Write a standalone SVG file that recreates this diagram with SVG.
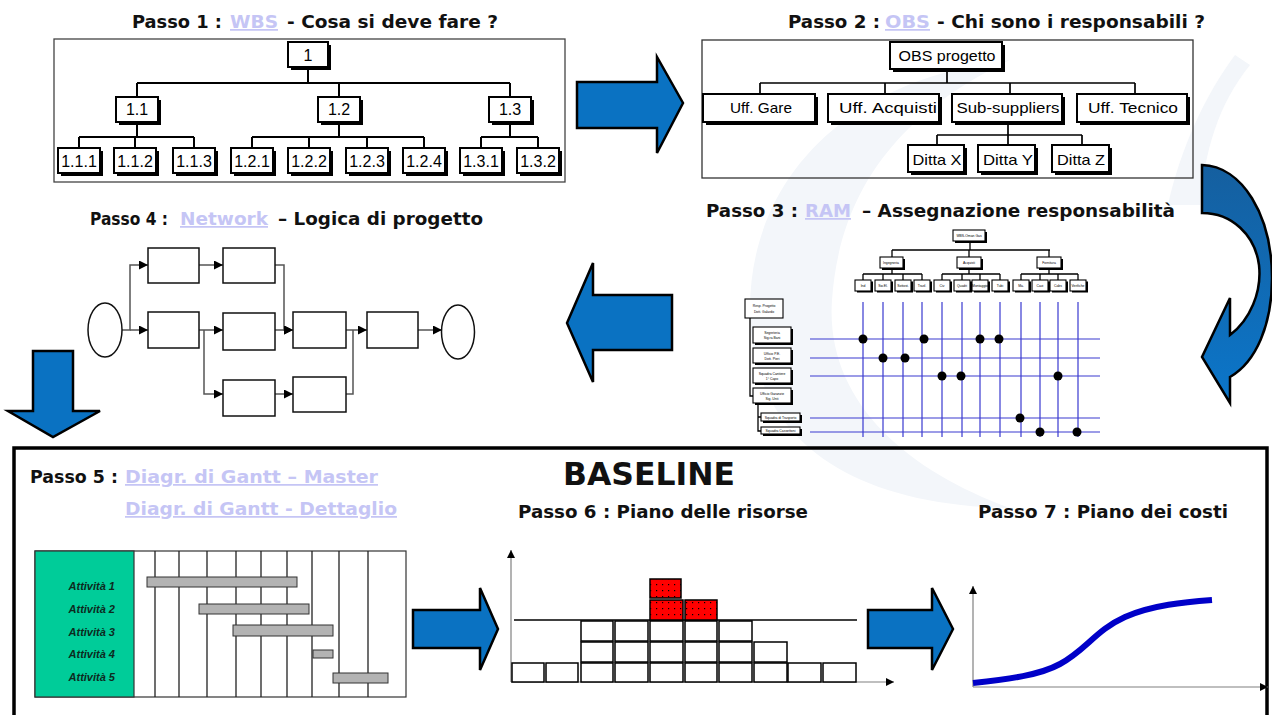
<svg xmlns="http://www.w3.org/2000/svg" width="1272" height="715" viewBox="0 0 1272 715">
<style>
.t{font-family:"DejaVu Sans",Verdana,sans-serif;font-weight:bold;font-size:17.5px;fill:#111}
.lk{fill:#c5c5f5;text-decoration:underline}
.nl{font-family:"Liberation Sans",Arial,sans-serif;font-size:16px;fill:#000;text-anchor:middle}
.ol{font-family:"Liberation Sans",Arial,sans-serif;font-size:15px;fill:#000;text-anchor:middle}
.sh{fill:#000}
.bx{fill:#fff;stroke:#000;stroke-width:2}
.cn{fill:none;stroke:#000;stroke-width:2}
.cn2{fill:none;stroke:#000;stroke-width:1.7}
.big{fill:#0a72c2;stroke:#000;stroke-width:2.5;stroke-linejoin:miter}
.nb{fill:#fff;stroke:#111;stroke-width:1.5}
.nc{fill:none;stroke:#555;stroke-width:1.5}
.tiny{font-family:"Liberation Sans",Arial,sans-serif;font-size:3.4px;fill:#000;text-anchor:middle}
.rb{fill:#fff;stroke:#000;stroke-width:1.1}
.rc{fill:none;stroke:#000;stroke-width:1.3}
.grid{stroke:#3a3ad0;stroke-width:1.2;fill:none}
.dot{fill:#000}
.res{fill:#fff;stroke:#000;stroke-width:1.5}
.red{fill:url(#dots);stroke:#000;stroke-width:1.5}
.bar{fill:#b3b3b3;stroke:#333;stroke-width:1}
.act{font-family:"Liberation Sans",Arial,sans-serif;font-size:11px;font-weight:bold;font-style:italic;fill:#0d2a1e;text-anchor:end}
.ax{stroke:#808080;stroke-width:1.2;fill:none}
.wm{fill:#f3f6fa}
</style>
<defs>
<marker id="ah" viewBox="0 0 10 10" refX="10" refY="5" markerWidth="9" markerHeight="9" markerUnits="userSpaceOnUse" orient="auto"><path d="M0,0 L10,5 L0,10 z" fill="#000"/></marker>
<marker id="axh" viewBox="0 0 10 10" refX="10" refY="5" markerWidth="8" markerHeight="8" markerUnits="userSpaceOnUse" orient="auto"><path d="M0,0 L10,5 L0,10 z" fill="#000"/></marker>
<pattern id="dots" width="6" height="6" patternUnits="userSpaceOnUse"><rect width="6" height="6" fill="#f00"/><rect x="2" y="2" width="1.2" height="1.2" fill="#000"/></pattern>
<linearGradient id="cg" x1="0" y1="0" x2="0" y2="1"><stop offset="0" stop-color="#155f9f"/><stop offset="1" stop-color="#0b76ca"/></linearGradient>
</defs>
<rect width="1272" height="715" fill="#fff"/>

<g id="watermark">
<path class="wm" d="M1010,60 C830,80 735,200 752,340 C765,440 850,505 1010,508 C905,470 825,400 832,300 C840,185 905,110 1010,60 Z"/>
<path class="wm" d="M1235,55 C1205,95 1180,150 1168,205 L1200,205 C1205,150 1218,105 1250,65 Z"/>
</g>

<g id="titles">
<text class="t" x="132" y="28" textLength="90" lengthAdjust="spacingAndGlyphs">Passo 1 :</text>
<text class="t lk" x="230" y="28" textLength="48" lengthAdjust="spacingAndGlyphs">WBS</text>
<text class="t" x="287" y="28" textLength="211" lengthAdjust="spacingAndGlyphs">- Cosa si deve fare ?</text>
<text class="t" x="788" y="28" textLength="92" lengthAdjust="spacingAndGlyphs">Passo 2 :</text>
<text class="t lk" x="885" y="28" textLength="45" lengthAdjust="spacingAndGlyphs">OBS</text>
<text class="t" x="937" y="28" textLength="268" lengthAdjust="spacingAndGlyphs">- Chi sono i responsabili ?</text>
<text class="t" x="706" y="217" textLength="92" lengthAdjust="spacingAndGlyphs">Passo 3 :</text>
<text class="t lk" x="805" y="217" textLength="46" lengthAdjust="spacingAndGlyphs">RAM</text>
<text class="t" x="862" y="217" textLength="313" lengthAdjust="spacingAndGlyphs">– Assegnazione responsabilità</text>
<text class="t" x="90" y="225" textLength="78" lengthAdjust="spacingAndGlyphs">Passo 4 :</text>
<text class="t lk" x="180" y="225" textLength="88" lengthAdjust="spacingAndGlyphs">Network</text>
<text class="t" x="278" y="225" textLength="205" lengthAdjust="spacingAndGlyphs">– Logica di progetto</text>
<text class="t" x="30" y="483" textLength="88" lengthAdjust="spacingAndGlyphs">Passo 5 :</text>
<text class="t lk" x="125" y="483" textLength="253" lengthAdjust="spacingAndGlyphs">Diagr. di Gantt – Master</text>
<text class="t lk" x="125" y="515" textLength="272" lengthAdjust="spacingAndGlyphs">Diagr. di Gantt - Dettaglio</text>
<text class="t" x="563" y="485" style="font-size:32px" textLength="172" lengthAdjust="spacingAndGlyphs">BASELINE</text>
<text class="t" x="518" y="518" textLength="290" lengthAdjust="spacingAndGlyphs">Passo 6 : Piano delle risorse</text>
<text class="t" x="978" y="518" textLength="250" lengthAdjust="spacingAndGlyphs">Passo 7 : Piano dei costi</text>
</g>

<g id="frames">
<rect x="54" y="39" width="511" height="143" fill="none" stroke="#444" stroke-width="1.3"/>
<rect x="702" y="40" width="491" height="138" fill="none" stroke="#333" stroke-width="1.3"/>
<rect x="14" y="448" width="1253" height="290" fill="none" stroke="#000" stroke-width="3.5"/>
</g>

<g id="connectors">
<g id="wbs-connectors">
<path class="cn" d="M308,67 V83 M137,83 H510 M137,83 V97 M339,83 V97 M510,83 V97"/>
<path class="cn" d="M137,122 V137 M79,137 H194 M79,137 V148 M135,137 V148 M194,137 V148"/>
<path class="cn" d="M339,122 V137 M252,137 H424 M252,137 V148 M309,137 V148 M367,137 V148 M424,137 V148"/>
<path class="cn" d="M510,122 V137 M481,137 H538 M481,137 V148 M538,137 V148"/>
</g>
<g id="obs-connectors">
<path class="cn2" d="M947,69 V83 M760,83 H1135 M760,83 V94 M885,83 V94 M1010,83 V94 M1135,83 V94"/>
<path class="cn2" d="M1008,122 V135 M937,135 H1082 M937,135 V145 M1008,135 V145 M1082,135 V145"/>
</g>
<g id="ram-connectors">
<path class="rc" d="M970,241 V250 M892,250 H1050 M892,250 V257 M969,250 V257 M1049,250 V257"/>
<path class="rc" d="M892,268 V274 M863,274 H922 M863,274 V280 M883,274 V280 M903,274 V280 M922,274 V280"/>
<path class="rc" d="M969,268 V274 M942,274 H1000 M942,274 V280 M962,274 V280 M980,274 V280 M1000,274 V280"/>
<path class="rc" d="M1049,268 V274 M1021,274 H1078 M1021,274 V280 M1040,274 V280 M1058,274 V280 M1078,274 V280"/>
<path class="rc" d="M750,318 V396 H753 M758,403 V431 H761 M758,417 H761"/>
<path class="grid" d="M863,302 V437 M883,302 V437 M903,302 V437 M922,302 V437 M942,302 V437 M962,302 V437 M980,302 V437 M1000,302 V437 M1021,302 V437 M1040,302 V437 M1058,302 V437 M1078,302 V437"/>
<path class="grid" d="M810,339 H1100 M810,358 H1100 M810,376 H1100 M810,418 H1100 M810,432 H1100"/>
</g>
<g id="network-connectors">
<path class="nc" d="M122,330 H130 V265 H148" marker-end="url(#ah)"/>
<path class="nc" d="M130,330 H148" marker-end="url(#ah)"/>
<path class="nc" d="M199,265 H223" marker-end="url(#ah)"/>
<path class="nc" d="M275,265 H284 V330 H293" marker-end="url(#ah)"/>
<path class="nc" d="M199,330 H223" marker-end="url(#ah)"/>
<path class="nc" d="M204,330 V394 H223" marker-end="url(#ah)"/>
<path class="nc" d="M275,330 H293" marker-end="url(#ah)"/>
<path class="nc" d="M346,330 H367" marker-end="url(#ah)"/>
<path class="nc" d="M275,394 H293" marker-end="url(#ah)"/>
<path class="nc" d="M346,394 H353 V330"/>
<path class="nc" d="M418,330 H442" marker-end="url(#ah)"/>
</g>
</g>

<g id="wbs-nodes">
<g id="wbs-1"><rect class="sh" x="291" y="45" width="40" height="25"/><rect class="bx" x="288" y="42" width="40" height="25"/><text class="nl" x="308" y="61">1</text></g>
<g id="wbs-1-1"><rect class="sh" x="119" y="100" width="42" height="25"/><rect class="bx" x="116" y="97" width="42" height="25"/><text class="nl" x="137" y="115">1.1</text></g>
<g id="wbs-1-2"><rect class="sh" x="321" y="100" width="42" height="25"/><rect class="bx" x="318" y="97" width="42" height="25"/><text class="nl" x="339" y="115">1.2</text></g>
<g id="wbs-1-3"><rect class="sh" x="492" y="100" width="42" height="25"/><rect class="bx" x="489" y="97" width="42" height="25"/><text class="nl" x="510" y="115">1.3</text></g>
<g id="wbs-1-1-1"><rect class="sh" x="61" y="151" width="42" height="25"/><rect class="bx" x="58" y="148" width="42" height="25"/><text class="nl" x="79" y="167">1.1.1</text></g>
<g id="wbs-1-1-2"><rect class="sh" x="117" y="151" width="42" height="25"/><rect class="bx" x="114" y="148" width="42" height="25"/><text class="nl" x="135" y="167">1.1.2</text></g>
<g id="wbs-1-1-3"><rect class="sh" x="176" y="151" width="42" height="25"/><rect class="bx" x="173" y="148" width="42" height="25"/><text class="nl" x="194" y="167">1.1.3</text></g>
<g id="wbs-1-2-1"><rect class="sh" x="234" y="151" width="42" height="25"/><rect class="bx" x="231" y="148" width="42" height="25"/><text class="nl" x="252" y="167">1.2.1</text></g>
<g id="wbs-1-2-2"><rect class="sh" x="291" y="151" width="42" height="25"/><rect class="bx" x="288" y="148" width="42" height="25"/><text class="nl" x="309" y="167">1.2.2</text></g>
<g id="wbs-1-2-3"><rect class="sh" x="349" y="151" width="42" height="25"/><rect class="bx" x="346" y="148" width="42" height="25"/><text class="nl" x="367" y="167">1.2.3</text></g>
<g id="wbs-1-2-4"><rect class="sh" x="406" y="151" width="42" height="25"/><rect class="bx" x="403" y="148" width="42" height="25"/><text class="nl" x="424" y="167">1.2.4</text></g>
<g id="wbs-1-3-1"><rect class="sh" x="463" y="151" width="42" height="25"/><rect class="bx" x="460" y="148" width="42" height="25"/><text class="nl" x="481" y="167">1.3.1</text></g>
<g id="wbs-1-3-2"><rect class="sh" x="520" y="151" width="42" height="25"/><rect class="bx" x="517" y="148" width="42" height="25"/><text class="nl" x="538" y="167">1.3.2</text></g>
</g>

<g id="obs-nodes">
<g id="obs-root"><rect class="sh" x="893" y="45" width="112" height="27"/><rect class="bx" x="890" y="42" width="112" height="27"/><text class="ol" x="947" y="61" textLength="97" lengthAdjust="spacingAndGlyphs">OBS progetto</text></g>
<g id="obs-gare"><rect class="sh" x="706" y="97" width="112" height="28"/><rect class="bx" x="703" y="94" width="112" height="28"/><text class="ol" x="761" y="113" textLength="62" lengthAdjust="spacingAndGlyphs">Uff. Gare</text></g>
<g id="obs-acquisti"><rect class="sh" x="831" y="97" width="111" height="28"/><rect class="bx" x="828" y="94" width="111" height="28"/><text class="ol" x="888" y="113" textLength="98" lengthAdjust="spacingAndGlyphs">Uff. Acquisti</text></g>
<g id="obs-sub"><rect class="sh" x="955" y="97" width="110" height="28"/><rect class="bx" x="952" y="94" width="110" height="28"/><text class="ol" x="1008" y="113" textLength="103" lengthAdjust="spacingAndGlyphs">Sub-suppliers</text></g>
<g id="obs-tecnico"><rect class="sh" x="1080" y="97" width="110" height="28"/><rect class="bx" x="1077" y="94" width="110" height="28"/><text class="ol" x="1133" y="113" textLength="90" lengthAdjust="spacingAndGlyphs">Uff. Tecnico</text></g>
<g id="obs-ditta-x"><rect class="sh" x="911" y="148" width="56" height="27"/><rect class="bx" x="908" y="145" width="56" height="27"/><text class="ol" x="937" y="165" textLength="49" lengthAdjust="spacingAndGlyphs">Ditta X</text></g>
<g id="obs-ditta-y"><rect class="sh" x="981" y="148" width="57" height="27"/><rect class="bx" x="978" y="145" width="57" height="27"/><text class="ol" x="1008" y="165" textLength="50" lengthAdjust="spacingAndGlyphs">Ditta Y</text></g>
<g id="obs-ditta-z"><rect class="sh" x="1055" y="148" width="57" height="27"/><rect class="bx" x="1052" y="145" width="57" height="27"/><text class="ol" x="1081" y="165" textLength="48" lengthAdjust="spacingAndGlyphs">Ditta Z</text></g>
</g>

<g id="ram-nodes">
<g id="ram-top"><rect class="sh" x="955" y="232" width="32" height="11"/><rect class="rb" x="953" y="230" width="32" height="11"/><text class="tiny" x="969" y="237">WBS-Oman Gas</text></g>
<g id="ram-l2-1"><rect class="sh" x="882" y="259" width="23" height="11"/><rect class="rb" x="880" y="257" width="23" height="11"/><text class="tiny" x="891" y="264">Ingegneria</text></g>
<g id="ram-l2-2"><rect class="sh" x="959" y="259" width="24" height="11"/><rect class="rb" x="957" y="257" width="24" height="11"/><text class="tiny" x="969" y="264">Acquisti</text></g>
<g id="ram-l2-3"><rect class="sh" x="1039" y="259" width="24" height="11"/><rect class="rb" x="1037" y="257" width="24" height="11"/><text class="tiny" x="1049" y="264">Fornitura</text></g>
<g id="ram-leaf-1"><rect class="sh" x="857" y="281.5" width="16" height="11"/><rect class="rb" x="855" y="280" width="16" height="11"/><text class="tiny" x="863" y="287">Ind</text></g>
<g id="ram-leaf-2"><rect class="sh" x="877" y="281.5" width="16" height="11"/><rect class="rb" x="875" y="280" width="16" height="11"/><text class="tiny" x="883" y="287">Sw.El.</text></g>
<g id="ram-leaf-3"><rect class="sh" x="897" y="281.5" width="16" height="11"/><rect class="rb" x="895" y="280" width="16" height="11"/><text class="tiny" x="903" y="287">Sottost.</text></g>
<g id="ram-leaf-4"><rect class="sh" x="916" y="281.5" width="16" height="11"/><rect class="rb" x="914" y="280" width="16" height="11"/><text class="tiny" x="922" y="287">Trasf.</text></g>
<g id="ram-leaf-5"><rect class="sh" x="936" y="281.5" width="16" height="11"/><rect class="rb" x="934" y="280" width="16" height="11"/><text class="tiny" x="942" y="287">Civ</text></g>
<g id="ram-leaf-6"><rect class="sh" x="956" y="281.5" width="16" height="11"/><rect class="rb" x="954" y="280" width="16" height="11"/><text class="tiny" x="962" y="287">Quadri</text></g>
<g id="ram-leaf-7"><rect class="sh" x="974" y="281.5" width="16" height="11"/><rect class="rb" x="972" y="280" width="16" height="11"/><text class="tiny" x="980" y="287">Montaggio</text></g>
<g id="ram-leaf-8"><rect class="sh" x="994" y="281.5" width="16" height="11"/><rect class="rb" x="992" y="280" width="16" height="11"/><text class="tiny" x="1000" y="287">Tubi</text></g>
<g id="ram-leaf-9"><rect class="sh" x="1015" y="281.5" width="16" height="11"/><rect class="rb" x="1013" y="280" width="16" height="11"/><text class="tiny" x="1021" y="287">Ma.</text></g>
<g id="ram-leaf-10"><rect class="sh" x="1034" y="281.5" width="16" height="11"/><rect class="rb" x="1032" y="280" width="16" height="11"/><text class="tiny" x="1040" y="287">Cavi</text></g>
<g id="ram-leaf-11"><rect class="sh" x="1052" y="281.5" width="16" height="11"/><rect class="rb" x="1050" y="280" width="16" height="11"/><text class="tiny" x="1058" y="287">Cabs</text></g>
<g id="ram-leaf-12"><rect class="sh" x="1072" y="281.5" width="16" height="11"/><rect class="rb" x="1070" y="280" width="16" height="11"/><text class="tiny" x="1078" y="287">Verifiche</text></g>
<g id="ram-resp"><rect class="rb" x="745" y="299" width="38" height="19"/><text class="tiny" x="764" y="307">Resp. Progetto</text><text class="tiny" x="764" y="313">Dott. Galardo</text></g>
<g id="ram-o1"><rect class="sh" x="755" y="329" width="38" height="16"/><rect class="rb" x="753" y="327" width="38" height="16"/><text class="tiny" x="772" y="334">Segreteria</text><text class="tiny" x="772" y="339">Sig.ra Bani</text></g>
<g id="ram-o2"><rect class="sh" x="755" y="350" width="38" height="15"/><rect class="rb" x="753" y="348" width="38" height="15"/><text class="tiny" x="772" y="354.5">Ufficio P.E.</text><text class="tiny" x="772" y="359.5">Dott. Pieri</text></g>
<g id="ram-o3"><rect class="sh" x="755" y="370" width="38" height="15"/><rect class="rb" x="753" y="368" width="38" height="15"/><text class="tiny" x="772" y="374.5">Squadra Cantiere</text><text class="tiny" x="772" y="379.5">1° Capo</text></g>
<g id="ram-o4"><rect class="sh" x="755" y="390" width="38" height="15"/><rect class="rb" x="753" y="388" width="38" height="15"/><text class="tiny" x="772" y="394.5">Ufficio Garanzie</text><text class="tiny" x="772" y="399.5">Sig. Unti</text></g>
<g id="ram-o5"><rect class="sh" x="763" y="415" width="39" height="8"/><rect class="rb" x="761" y="413" width="39" height="8"/><text class="tiny" x="780.5" y="418.5">Squadra di Trasporto</text></g>
<g id="ram-o6"><rect class="sh" x="763" y="429" width="39" height="7"/><rect class="rb" x="761" y="427" width="39" height="7"/><text class="tiny" x="780.5" y="432">Squadra Cassettoni</text></g>
<g id="ram-dots">
<circle class="dot" cx="863" cy="339" r="4.5"/><circle class="dot" cx="924" cy="339" r="4.5"/><circle class="dot" cx="980" cy="339" r="4.5"/><circle class="dot" cx="999" cy="339" r="4.5"/>
<circle class="dot" cx="883" cy="358" r="4.5"/><circle class="dot" cx="905" cy="358" r="4.5"/>
<circle class="dot" cx="942" cy="376" r="4.5"/><circle class="dot" cx="961" cy="376" r="4.5"/><circle class="dot" cx="1058" cy="376" r="4.5"/>
<circle class="dot" cx="1020" cy="418" r="4.5"/>
<circle class="dot" cx="1040" cy="432" r="4.5"/><circle class="dot" cx="1077" cy="432" r="4.5"/>
</g>
</g>

<g id="network-nodes">
<g id="net-start"><ellipse class="nb" cx="105" cy="330" rx="17" ry="27"/></g>
<g id="net-a"><rect class="nb" x="148" y="248" width="51" height="35"/></g>
<g id="net-b"><rect class="nb" x="223" y="248" width="52" height="35"/></g>
<g id="net-c"><rect class="nb" x="148" y="312" width="51" height="36"/></g>
<g id="net-d"><rect class="nb" x="223" y="313" width="52" height="37"/></g>
<g id="net-e"><rect class="nb" x="293" y="312" width="53" height="36"/></g>
<g id="net-f"><rect class="nb" x="367" y="312" width="51" height="36"/></g>
<g id="net-g"><rect class="nb" x="223" y="380" width="52" height="36"/></g>
<g id="net-h"><rect class="nb" x="293" y="377" width="53" height="35"/></g>
<g id="net-end"><ellipse class="nb" cx="458" cy="332" rx="16.5" ry="27"/></g>
</g>

<g id="big-arrows">
<path id="arrow-1-2" class="big" d="M577,82 H657 V57 L683,103 L657,153 V128 H577 Z"/>
<path id="arrow-2-3" d="M1202,165 C1242,166 1272,215 1272,278 C1272,325 1256,362 1230,377 L1230,403 L1202,357 L1230,298 L1230,335 C1250,320 1262,292 1259,265 C1255,235 1232,213 1202,213 Z" fill="url(#cg)" stroke="#000" stroke-width="2.5"/>
<path id="arrow-3-4" class="big" d="M672,295 H593 V263 L567,323 L593,382 V350 H672 Z"/>
<path id="arrow-4-5" class="big" d="M33,351 H73 V411 H100 L53,437 L8,411 H33 Z"/>
<path id="arrow-5-6" class="big" d="M413,610 H480 V588 L498,629 L480,670 V648 H413 Z"/>
<path id="arrow-6-7" class="big" d="M868,610 H932 V588 L953,629 L932,670 V648 H868 Z"/>
</g>

<g id="gantt">
<rect x="35" y="551" width="371" height="146" fill="#fff" stroke="#333" stroke-width="1.2"/>
<rect x="35" y="551" width="99" height="146" fill="#00cc99" stroke="#333" stroke-width="1.2"/>
<path d="M155,551 V697 M179,551 V697 M207,551 V697 M236,551 V697 M261,551 V697 M287,551 V697 M312,551 V697 M339,551 V697 M368,551 V697" stroke="#222" stroke-width="1.3"/>
<rect class="bar" x="147" y="577" width="150" height="10"/>
<rect class="bar" x="199" y="604" width="110" height="10"/>
<rect class="bar" x="233" y="625" width="100" height="11"/>
<rect class="bar" x="313" y="650" width="20" height="8"/>
<rect class="bar" x="333" y="673" width="55" height="10"/>
<text class="act" x="115" y="590">Attività 1</text>
<text class="act" x="115" y="613">Attività 2</text>
<text class="act" x="115" y="636">Attività 3</text>
<text class="act" x="115" y="658">Attività 4</text>
<text class="act" x="115" y="681">Attività 5</text>
</g>

<g id="resources">
<path class="ax" d="M511,682 V550" marker-end="url(#axh)"/>
<path class="ax" d="M511,682 H894" marker-end="url(#axh)"/>
<path d="M514,620 H857" stroke="#000" stroke-width="1.3"/>
<rect class="res" x="512" y="663" width="32" height="19"/>
<rect class="res" x="546" y="663" width="32" height="19"/>
<rect class="res" x="581" y="663" width="32" height="19"/><rect class="res" x="581" y="642" width="32" height="20"/><rect class="res" x="581" y="621" width="32" height="20"/>
<rect class="res" x="615" y="663" width="33" height="19"/><rect class="res" x="615" y="642" width="33" height="20"/><rect class="res" x="615" y="621" width="33" height="20"/>
<rect class="res" x="650" y="663" width="33" height="19"/><rect class="res" x="650" y="642" width="33" height="20"/><rect class="res" x="650" y="621" width="33" height="20"/>
<rect class="red" x="650" y="600" width="33" height="20"/><rect class="red" x="650" y="579" width="31" height="19"/>
<rect class="res" x="685" y="663" width="32" height="19"/><rect class="res" x="685" y="642" width="32" height="20"/><rect class="res" x="685" y="621" width="32" height="20"/>
<rect class="red" x="685" y="600" width="32" height="20"/>
<rect class="res" x="719" y="663" width="33" height="19"/><rect class="res" x="719" y="642" width="33" height="20"/><rect class="res" x="719" y="621" width="33" height="20"/>
<rect class="res" x="754" y="663" width="33" height="19"/><rect class="res" x="754" y="642" width="33" height="20"/>
<rect class="res" x="788" y="663" width="33" height="19"/>
<rect class="res" x="823" y="663" width="33" height="19"/>
</g>

<g id="costs">
<path class="ax" d="M973,687 V586" marker-end="url(#axh)"/>
<path class="ax" d="M973,687 H1268" marker-end="url(#axh)"/>
<path d="M973,683 C1010,679 1040,675 1060,664 C1085,651 1096,630 1125,617 C1152,605 1185,602 1212,600" fill="none" stroke="#0000c8" stroke-width="6"/>
</g>
</svg>
